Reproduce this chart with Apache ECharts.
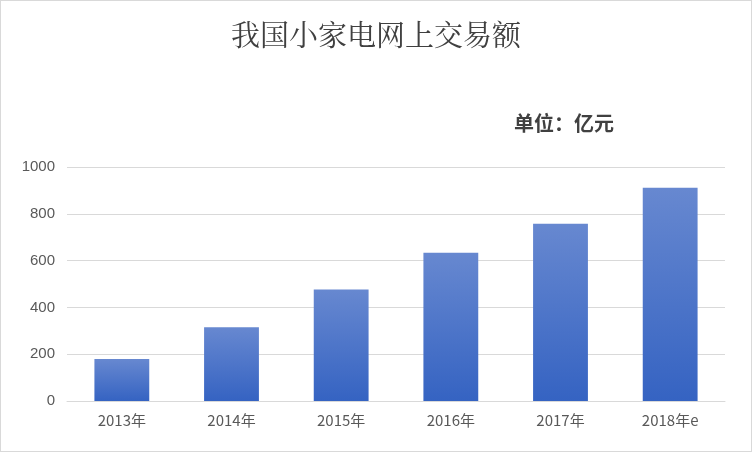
<!DOCTYPE html>
<html><head><meta charset="utf-8">
<script src="https://cdn.jsdelivr.net/npm/echarts@6/dist/echarts.min.js"></script>
<style>html,body{margin:0;padding:0;background:#fff}#c{width:750px;height:450px;border:1px solid #d9d9d9}</style>
</head><body><div id="c"></div>
<script>
const categories=['2013年','2014年','2015年','2016年','2017年','2018年e'];
const values=[179,315,477,634,757,911];
const yTicks=[0,200,400,600,800,1000];
const chart=echarts.init(document.getElementById('c'));
chart.setOption({
  title:[{text:'我国小家电网上交易额',left:'center',top:14,textStyle:{fontFamily:'Noto Serif CJK SC, Noto Sans CJK SC',fontSize:29,fontWeight:'normal',color:'#404040'}},
         {text:'单位：亿元',left:508,top:107,textStyle:{fontFamily:'Noto Sans CJK SC',fontSize:20,fontWeight:'bold',color:'#404040'}}],
  grid:{left:66,right:26,top:166,bottom:50},
  xAxis:{type:'category',data:categories,axisTick:{show:false},axisLine:{lineStyle:{color:'#d9d9d9'}},
    axisLabel:{color:'#595959',fontSize:15,margin:12,fontFamily:'Noto Sans CJK SC'}},
  yAxis:{type:'value',min:0,max:1000,interval:200,axisLabel:{color:'#595959',fontSize:15,margin:12,formatter:v=>String(v)},
    splitLine:{lineStyle:{color:'#d9d9d9'}}},
  series:[{type:'bar',data:values,barWidth:'50%',
    itemStyle:{color:new echarts.graphic.LinearGradient(0,0,0,1,[{offset:0,color:'#6788d0'},{offset:1,color:'#3563c2'}])}}]
});
</script></body></html>
